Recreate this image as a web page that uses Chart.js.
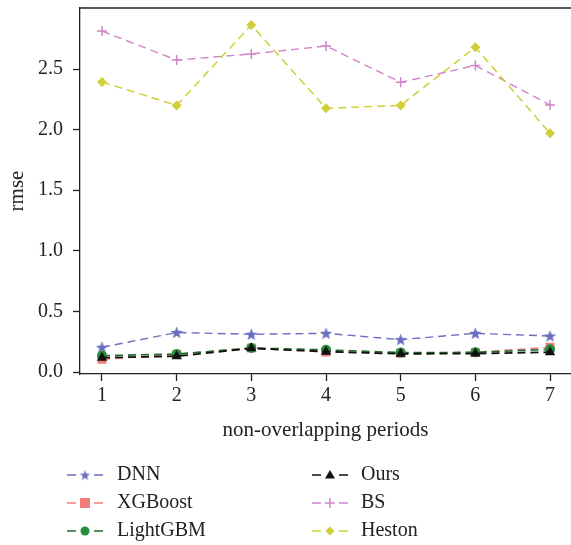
<!DOCTYPE html>
<html>
<head>
<meta charset="utf-8">
<script src="https://cdn.jsdelivr.net/npm/chart.js@4/dist/chart.umd.min.js"></script>
<style>
html,body{margin:0;padding:0;background:#fff;overflow:hidden;}
#wrap{width:571px;height:545px;position:relative;}
</style>
</head>
<body>
<div id="wrap"><canvas id="c" width="571" height="545"></canvas></div>
<script>
const periods = [1, 2, 3, 4, 5, 6, 7];
const yTicks = [0, 0.5, 1.0, 1.5, 2.0, 2.5];
const dnn      = [0.204, 0.326, 0.311, 0.319, 0.267, 0.319, 0.297];
const xgboost  = [0.105, 0.145, 0.198, 0.165, 0.155, 0.162, 0.205];
const lightgbm = [0.135, 0.148, 0.198, 0.183, 0.160, 0.162, 0.187];
const ours     = [0.118, 0.130, 0.195, 0.168, 0.150, 0.152, 0.163];
const bs       = [2.813, 2.574, 2.624, 2.690, 2.390, 2.530, 2.203];
const heston   = [2.393, 2.200, 2.863, 2.176, 2.200, 2.680, 1.969];

const FONT = "'Liberation Serif', 'Times New Roman', serif";
const AXIS = '#222';

function starCanvas(color, r) {
  const s = Math.ceil(r * 2 + 2);
  const c = document.createElement('canvas');
  c.width = s; c.height = s;
  const g = c.getContext('2d');
  const cx = s / 2, cy = s / 2 + 0.5, ri = r * 0.42;
  g.beginPath();
  for (let i = 0; i < 10; i++) {
    const rr = i % 2 === 0 ? r : ri;
    const a = -Math.PI / 2 + i * Math.PI / 5;
    const px = cx + rr * Math.cos(a), py = cy + rr * Math.sin(a);
    if (i === 0) g.moveTo(px, py); else g.lineTo(px, py);
  }
  g.closePath();
  g.fillStyle = color;
  g.fill();
  return c;
}

const C_DNN = '#6a6fc0', C_XGB = '#f27c7c', C_LGB = '#24903a', C_LGB_LINE = '#1f6b2c',
      C_OURS = '#111111', C_BS = '#d184c9', C_HES = '#cfcf38';

const starPlot = starCanvas(C_DNN, 6.5);
const starLeg = starCanvas(C_DNN, 5.5);

function mkData(arr) { return arr.map((v, i) => ({x: periods[i], y: v})); }

const series = [
  {label: 'DNN', data: dnn, color: C_DNN, line: C_DNN, style: starPlot, legStyle: starLeg, radius: 6, order: 3, width: 1.4},
  {label: 'XGBoost', data: xgboost, color: C_XGB, line: C_XGB, style: 'rect', radius: 6.3, order: 2, width: 1.5},
  {label: 'LightGBM', data: lightgbm, color: C_LGB, line: C_LGB_LINE, style: 'circle', radius: 5, order: 1, width: 1.6},
  {label: 'Ours', data: ours, color: C_OURS, line: C_OURS, style: 'triangle', radius: 6, order: 0, width: 1.8},
  {label: 'BS', data: bs, color: C_BS, line: C_BS, style: 'cross', radius: 5, order: 5, width: 1.4},
  {label: 'Heston', data: heston, color: C_HES, line: C_HES, style: 'rectRot', radius: 5, order: 4, width: 1.5}
];

const datasets = series.map(s => ({
  label: s.label,
  data: mkData(s.data),
  borderColor: s.line,
  borderWidth: s.width,
  borderDash: [8, 5],
  backgroundColor: s.color,
  pointStyle: s.style,
  pointRadius: s.radius,
  pointBackgroundColor: s.color,
  pointBorderColor: s.color,
  pointBorderWidth: s.style === 'cross' ? 1.5 : 0,
  fill: false,
  tension: 0,
  clip: 10,
  order: s.order
}));

function drawMarker(ctx, s, x, y) {
  ctx.save();
  ctx.fillStyle = s.color;
  ctx.strokeStyle = s.color;
  ctx.setLineDash([]);
  if (s.label === 'DNN') {
    ctx.drawImage(s.legStyle, x - s.legStyle.width / 2, y - s.legStyle.height / 2);
  } else if (s.style === 'rect') {
    ctx.fillRect(x - 5, y - 5, 10, 10);
  } else if (s.style === 'circle') {
    ctx.beginPath(); ctx.arc(x, y, 4.5, 0, Math.PI * 2); ctx.fill();
  } else if (s.style === 'triangle') {
    ctx.beginPath(); ctx.moveTo(x, y - 5); ctx.lineTo(x + 5, y + 3.5); ctx.lineTo(x - 5, y + 3.5); ctx.closePath(); ctx.fill();
  } else if (s.style === 'cross') {
    ctx.lineWidth = 1.5;
    ctx.beginPath(); ctx.moveTo(x - 5, y); ctx.lineTo(x + 5, y); ctx.moveTo(x, y - 5); ctx.lineTo(x, y + 5); ctx.stroke();
  } else if (s.style === 'rectRot') {
    ctx.beginPath(); ctx.moveTo(x, y - 4.5); ctx.lineTo(x + 4.5, y); ctx.lineTo(x, y + 4.5); ctx.lineTo(x - 4.5, y); ctx.closePath(); ctx.fill();
  }
  ctx.restore();
}

const legendPlugin = {
  id: 'customLegend',
  afterDraw(chart) {
    const ctx = chart.ctx;
    const cols = [67, 312];
    const textX = [117, 361];
    const rows = [475, 503, 531];
    series.forEach((s, i) => {
      const col = Math.floor(i / 3), row = i % 3;
      const x0 = cols[col], y = rows[row];
      ctx.save();
      ctx.strokeStyle = s.line;
      ctx.lineWidth = 1.5;
      ctx.beginPath();
      ctx.moveTo(x0, y); ctx.lineTo(x0 + 9, y);
      ctx.moveTo(x0 + 27, y); ctx.lineTo(x0 + 36, y);
      ctx.stroke();
      ctx.restore();
      drawMarker(ctx, s, x0 + 18, y);
      ctx.save();
      ctx.fillStyle = '#222';
      ctx.font = '20px ' + FONT;
      ctx.textBaseline = 'middle';
      ctx.textAlign = 'left';
      ctx.fillText(s.label, textX[col], y);
      ctx.restore();
    });
    const a = chart.chartArea;
    ctx.save();
    ctx.strokeStyle = AXIS;
    ctx.lineWidth = 1.3;
    ctx.beginPath();
    ctx.moveTo(a.left, a.top);
    ctx.lineTo(chart.width, a.top);
    ctx.stroke();
    ctx.restore();
  }
};

const zeroPad = () => ({left: 0, top: 0, right: 0, bottom: 0});

new Chart(document.getElementById('c'), {
  type: 'line',
  data: {datasets},
  options: {
    responsive: false,
    animation: false,
    devicePixelRatio: 1,
    layout: {autoPadding: false, padding: {top: 8, right: 0, bottom: 100, left: 0}},
    plugins: {legend: {display: false}, tooltip: {enabled: false}},
    scales: {
      x: {
        type: 'linear',
        min: 0.7054,
        max: 7.281,
        afterBuildTicks: sc => { sc.ticks = periods.map(v => ({value: v})); },
        afterFit: sc => { sc.height = 71; sc.paddingLeft = 0; sc.paddingRight = 0; sc.getPadding = zeroPad; },
        ticks: {
          color: '#222', font: {family: FONT, size: 20}, padding: 3,
          callback: v => String(v), maxRotation: 0, autoSkip: false
        },
        grid: {drawOnChartArea: false, drawTicks: true, tickLength: 7, tickWidth: 1.3, tickColor: AXIS},
        border: {display: true, color: AXIS, width: 1.3},
        title: {display: true, text: 'non-overlapping periods', color: '#222', font: {family: FONT, size: 21, lineHeight: 1.2}, padding: {top: 0, bottom: 2}}
      },
      y: {
        type: 'linear',
        min: -0.0165,
        max: 3.0035,
        afterBuildTicks: sc => { sc.ticks = yTicks.map(v => ({value: v})); },
        afterFit: sc => { sc.width = 80; sc.paddingTop = 0; sc.paddingBottom = 0; sc.getPadding = zeroPad; },
        ticks: {
          color: '#222', font: {family: FONT, size: 20}, padding: 10,
          callback: v => Number(v).toFixed(1)
        },
        grid: {drawOnChartArea: false, drawTicks: true, tickLength: 7, tickWidth: 1.3, tickColor: AXIS},
        border: {display: true, color: AXIS, width: 1.3},
        title: {display: true, text: 'rmse', color: '#222', font: {family: FONT, size: 21, lineHeight: 1.2}, padding: {top: 5, bottom: 0}}
      }
    }
  },
  plugins: [legendPlugin]
});
</script>
</body>
</html>
